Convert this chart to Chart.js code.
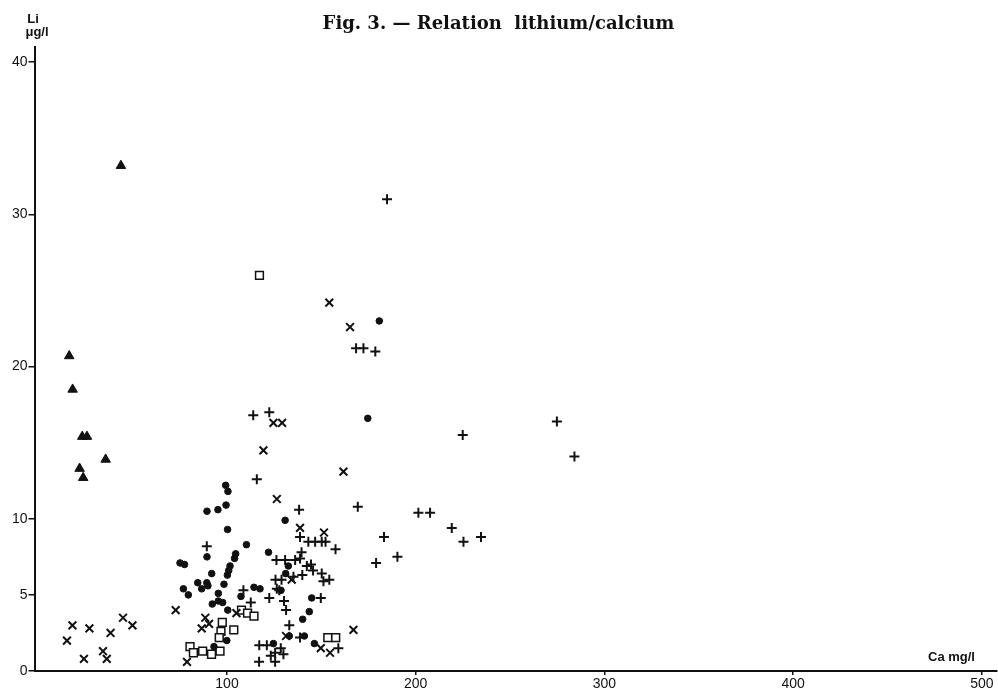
<!DOCTYPE html>
<html>
<head>
<meta charset="utf-8">
<title>Relation lithium/calcium</title>
<script src="https://cdn.jsdelivr.net/npm/chart.js@4.4.1/dist/chart.umd.min.js"></script>
<style>
  html, body { margin: 0; padding: 0; background: #fff; }
  #wrap { width: 998px; height: 691px; position: relative; }
</style>
</head>
<body>
<div id="wrap"><canvas id="chart_li_ca"></canvas></div>
<script>
var liTicks = [0, 5, 10, 20, 30, 40]
var caTicks = [100, 200, 300, 400, 500]

// [Ca mg/l, Li µg/l]
var triangles = [[16.4,20.7],[18.2,18.5],[23.3,15.4],[25.8,15.4],[21.9,13.3],[23.8,12.7],[35.7,13.9],[43.8,33.2]]

var xMarks = [[15.2,2.0],[18.1,3.0],[27.1,2.8],[24.2,0.8],[38.3,2.5],[34.3,1.3],[36.3,0.8],[44.9,3.5],[49.9,3.0],
  [72.8,4.0],[78.8,0.6],[86.6,2.8],[88.5,3.5],[90.5,3.1],[105.0,3.8],[119.3,14.5],[124.6,16.3],[129.2,16.3],
  [126.4,11.3],[138.7,9.4],[151.4,9.1],[134.3,6.0],[131.3,2.3],[149.7,1.5],[154.6,1.2],[167.0,2.7],
  [154.2,24.2],[165.2,22.6],[161.7,13.1]]

var plusMarks = [[113.9,16.8],[122.4,17.0],[115.8,12.6],[138.2,10.6],[169.3,10.8],[89.3,8.2],[108.7,5.3],[112.6,4.5],
  [138.7,8.8],[143.1,8.5],[146.7,8.5],[150.2,8.5],[152.2,8.5],[157.5,8.0],[126.2,7.3],[130.8,7.3],[136.1,7.3],
  [138.7,7.4],[139.5,7.8],[142.3,6.9],[144.5,7.0],[145.6,6.6],[150.2,6.4],[151.1,5.9],[154.2,6.0],[125.7,6.0],
  [128.9,6.0],[135.2,6.2],[139.9,6.3],[126.4,5.4],[127.7,5.3],[149.7,4.8],[122.4,4.8],[130.2,4.6],[131.3,4.0],
  [133.0,3.0],[138.7,2.2],[159.0,1.5],[117.1,1.7],[121.1,1.7],[128.5,1.5],[125.5,1.2],[123.2,1.0],[129.9,1.1],
  [125.5,0.6],[117.0,0.6],[168.4,21.2],[172.3,21.2],[178.6,21.0],[184.8,31.0],[224.9,15.5],[274.8,16.4],
  [284.1,14.1],[201.4,10.4],[207.6,10.4],[219.1,9.4],[225.3,8.5],[234.6,8.8],[183.2,8.8],[179.0,7.1],[190.3,7.5]]

var dots = [[99.3,12.2],[100.5,11.8],[99.5,10.9],[95.2,10.6],[89.4,10.5],[100.3,9.3],[110.3,8.3],[89.4,7.5],
  [104.6,7.7],[104.0,7.4],[122.0,7.8],[75.1,7.1],[77.5,7.0],[101.6,6.9],[100.9,6.6],[100.2,6.3],[91.9,6.4],
  [84.5,5.8],[86.6,5.4],[89.3,5.8],[89.9,5.6],[98.4,5.7],[76.9,5.4],[79.5,5.0],[95.4,5.1],[92.2,4.4],[95.4,4.6],
  [97.7,4.5],[100.4,4.0],[107.4,4.9],[114.3,5.5],[117.5,5.4],[99.9,2.0],[93.1,1.6],[130.8,9.9],[132.5,6.9],
  [131.1,6.4],[128.6,5.3],[144.9,4.8],[143.6,3.9],[140.1,3.4],[141.0,2.3],[133.0,2.3],[146.3,1.8],[124.6,1.8],
  [180.7,23.0],[174.6,16.6]]

var squares = [[117.2,26.0],[107.7,4.0],[110.9,3.8],[114.3,3.6],[97.5,3.2],[103.6,2.7],[96.8,2.6],[95.9,2.2],
  [80.4,1.6],[82.2,1.2],[87.1,1.3],[91.8,1.1],[96.3,1.3],[153.4,2.2],[157.6,2.2]]

var ink = '#111'
var sans = '"Liberation Sans", Arial, sans-serif'

function toPoints(arr) {
    return arr.map(function(p){ return {x: p[0], y: p[1]} })
}

function markSet(name, arr, style, radius, fill, width) {
    return {
        label: name,
        data: toPoints(arr),
        pointStyle: style,
        pointRadius: radius,
        pointHoverRadius: radius,
        backgroundColor: fill,
        borderColor: ink,
        borderWidth: width,
        showLine: false
    }
}

// axis captions drawn straight on the canvas
var axisCaptions = {
    id: 'axisCaptions',
    afterDraw: function(chart) {
        var c = chart.ctx
        c.save()
        c.fillStyle = ink
        c.font = 'bold 13px ' + sans
        c.textAlign = 'center'
        c.fillText('Li', 33, 23)
        c.fillText('\u03bcg/l', 37, 36)
        c.textAlign = 'left'
        c.fillText('Ca mg/l', 928, 661)
        c.restore()
    }
}

var ctx = document.getElementById('chart_li_ca');
var chartScatter = new Chart(ctx, {
    type: 'scatter',
    data: {
        datasets: [
            markSet('triangles', triangles, 'triangle', 5.5, ink, 1),
            markSet('x', xMarks, 'crossRot', 5.5, ink, 2),
            markSet('plus', plusMarks, 'cross', 5, ink, 2),
            markSet('dots', dots, 'circle', 3.3, ink, 1),
            markSet('squares', squares, 'rect', 5.5, '#fff', 1.5)
        ]
    },
    plugins: [axisCaptions],
    options: {
        responsive: true,
        maintainAspectRatio: false,
        animation: false,
        layout: { autoPadding: false, padding: { left: 0, right: 1, top: 0, bottom: 0 } },
        plugins: {
            legend: { display: false },
            tooltip: { enabled: false },
            title: {
                display: true,
                text: 'Fig. 3. \u2014 Relation  lithium/calcium',
                color: ink,
                font: { family: '"DejaVu Serif", serif', size: 18, weight: 'bold', lineHeight: 1.2 },
                padding: { top: 14, bottom: 11.4 }
            }
        },
        scales: {
            x: {
                type: 'linear',
                min: -2,
                max: 508,
                afterBuildTicks: function(axis) {
                    axis.ticks = caTicks.map(function(v){ return {value: v} })
                },
                afterFit: function(axis) {
                    axis.height = 20
                    axis.paddingLeft = 0
                    axis.paddingRight = 0
                },
                border: { display: true, color: ink, width: 2 },
                grid: { drawOnChartArea: false, drawTicks: true, tickLength: 4, color: ink, lineWidth: 1.5 },
                ticks: { color: ink, padding: 1, maxRotation: 0, font: { family: sans, size: 14 } }
            },
            y: {
                type: 'linear',
                min: 0,
                max: 41,
                afterBuildTicks: function(axis) {
                    axis.ticks = liTicks.map(function(v){ return {value: v} })
                },
                afterFit: function(axis) {
                    axis.width = 34.5
                    axis.paddingTop = 0
                    axis.paddingBottom = 0
                },
                border: { display: true, color: ink, width: 2 },
                grid: { drawOnChartArea: false, drawTicks: true, tickLength: 6, color: ink, lineWidth: 1.5 },
                ticks: { color: ink, padding: 1, font: { family: sans, size: 14 } }
            }
        }
    }
});
</script>
</body>
</html>
